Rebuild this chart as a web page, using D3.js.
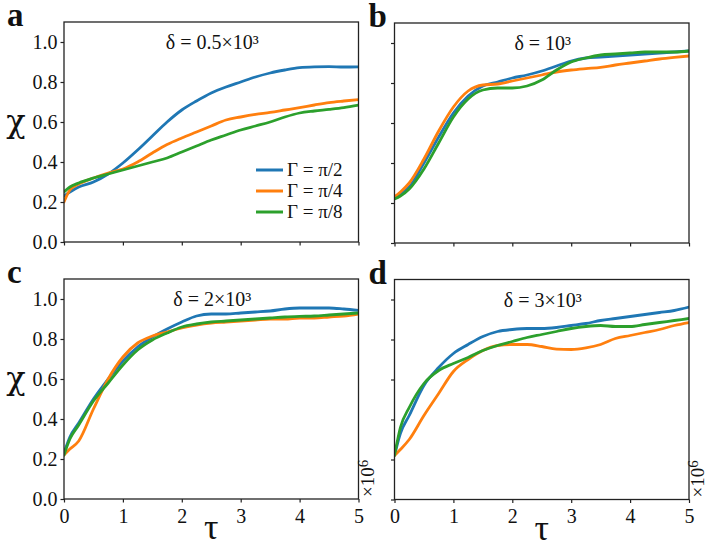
<!DOCTYPE html>
<html lang="en">
<head>
	<meta charset="utf-8">
	<script src="https://cdn.jsdelivr.net/npm/d3@7"></script>
	<style>
		body{ margin:0; background:white; }
		.frame{ fill:none; stroke:#222; stroke-width:1.3px; }
		.curve{ fill:none; stroke-width:2.8px; stroke-linejoin:round; stroke-linecap:round; }
		.tick line{ stroke:#222; stroke-width:1.2px; }
		.domain{ display:none; }
	</style>
</head>
<body>
	<script>
		var tau = [0, 0.1, 0.25, 0.5, 0.75, 1, 1.25, 1.5, 1.75, 2, 2.25, 2.5, 2.75, 3, 3.25, 3.5, 3.75, 4, 4.25, 4.5, 4.75, 5];
		var legendLabels = ["Γ = π/2", "Γ = π/4", "Γ = π/8"];
		var colors = ["#1f77b4", "#ff7f0e", "#2ca02c"];
		var xTicks = [0, 1, 2, 3, 4, 5];
		var yTicks = [0, 0.2, 0.4, 0.6, 0.8, 1.0];
		var panelLetters = ["a", "b", "c", "d"];
		var panelTitles = ["δ = 0.5×10³", "δ = 10³", "δ = 2×10³", "δ = 3×10³"];

		// panel a
		var aBlue   = [0.23,0.25,0.275,0.30,0.34,0.395,0.46,0.53,0.60,0.66,0.705,0.745,0.775,0.80,0.825,0.845,0.86,0.872,0.876,0.877,0.875,0.876];
		var aOrange = [0.20,0.26,0.29,0.32,0.345,0.365,0.40,0.445,0.487,0.52,0.55,0.58,0.61,0.625,0.638,0.648,0.66,0.672,0.685,0.697,0.705,0.712];
		var aGreen  = [0.25,0.275,0.295,0.32,0.34,0.36,0.38,0.40,0.42,0.45,0.48,0.51,0.535,0.56,0.58,0.60,0.625,0.645,0.655,0.663,0.672,0.684];
		// panel b
		var bBlue   = [0.23,0.245,0.28,0.40,0.53,0.65,0.735,0.785,0.805,0.825,0.84,0.86,0.885,0.91,0.925,0.93,0.935,0.94,0.945,0.95,0.955,0.96];
		var bOrange = [0.23,0.255,0.30,0.42,0.56,0.68,0.76,0.79,0.795,0.81,0.825,0.84,0.855,0.865,0.872,0.878,0.89,0.90,0.91,0.92,0.928,0.935];
		var bGreen  = [0.22,0.235,0.27,0.37,0.50,0.63,0.72,0.765,0.775,0.775,0.785,0.815,0.865,0.905,0.925,0.94,0.945,0.95,0.955,0.955,0.955,0.96];
		// panel c
		var cBlue   = [0.23,0.31,0.38,0.50,0.60,0.69,0.76,0.81,0.85,0.885,0.915,0.925,0.925,0.93,0.935,0.94,0.95,0.955,0.955,0.955,0.95,0.943];
		var cOrange = [0.22,0.25,0.29,0.45,0.60,0.71,0.78,0.815,0.835,0.855,0.87,0.88,0.885,0.89,0.895,0.90,0.90,0.905,0.905,0.91,0.915,0.925];
		var cGreen  = [0.22,0.30,0.37,0.49,0.58,0.67,0.745,0.795,0.83,0.86,0.875,0.885,0.89,0.895,0.90,0.905,0.91,0.913,0.915,0.92,0.925,0.93];
		// panel d
		var dBlue   = [0.22,0.33,0.42,0.57,0.66,0.73,0.775,0.815,0.84,0.85,0.855,0.855,0.86,0.87,0.88,0.895,0.905,0.915,0.925,0.935,0.945,0.962];
		var dOrange = [0.22,0.25,0.30,0.42,0.53,0.64,0.70,0.745,0.77,0.775,0.775,0.765,0.752,0.75,0.758,0.775,0.805,0.82,0.835,0.85,0.87,0.885];
		var dGreen  = [0.22,0.36,0.46,0.58,0.645,0.68,0.71,0.745,0.77,0.79,0.81,0.825,0.84,0.855,0.865,0.87,0.865,0.865,0.875,0.885,0.895,0.905];

		var panelSeries = [
			[aBlue, aOrange, aGreen],
			[bBlue, bOrange, bGreen],
			[cBlue, cOrange, cGreen],
			[dBlue, dOrange, dGreen]
		];

		var serif = "'Liberation Serif', 'Times New Roman', Times, serif";
		var width = 708, height = 543;
		var pw = 294.5, ph = 220;
		var origins = [[64, 22], [394.5, 23], [64, 279], [394.5, 279.5]];

		var svg = d3.select("body").append("svg")
			.attr("width", width)
			.attr("height", height)
			.style("font-family", serif);

		var x = d3.scaleLinear().domain([0, 5]).range([0, pw]);
		var y = d3.scaleLinear().domain([0, 1.1]).range([ph, 0]);

		var line = d3.line()
			.x(function(d){ return x(d[0]); })
			.y(function(d){ return y(d[1]); })
			.curve(d3.curveMonotoneX);

		svg.append("defs").append("clipPath").attr("id", "clip")
			.append("rect").attr("width", pw).attr("height", ph);

		panelSeries.forEach(function(series, i){
			var o = origins[i];
			var g = svg.append("g").attr("transform", "translate(" + o[0] + "," + o[1] + ")");
			var isLeft = (i % 2 == 0), isBottom = (i >= 2);

			var plot = g.append("g").attr("clip-path", "url(#clip)");
			series.forEach(function(vals, k){
				plot.append("path")
					.attr("class", "curve")
					.attr("stroke", colors[k])
					.attr("d", line(tau.map(function(t, j){ return [t, vals[j]]; })));
			});

			var xAxis = d3.axisBottom(x).tickValues(xTicks).tickSize(3.5).tickPadding(6)
				.tickFormat(d3.format("d"));
			if(!isBottom) xAxis.tickFormat("");
			var xg = g.append("g").attr("transform", "translate(0," + ph + ")").call(xAxis);
			xg.attr("font-family", serif);
			xg.selectAll("text").attr("font-size", "20px").attr("fill", "#111");

			var yAxis = d3.axisLeft(y).tickValues(yTicks).tickSize(3.5).tickPadding(3)
				.tickFormat(d3.format(".1f"));
			if(!isLeft) yAxis.tickFormat("");
			var yg = g.append("g").call(yAxis);
			yg.attr("font-family", serif);
			yg.selectAll("text").attr("font-size", "20px").attr("fill", "#111");

			g.append("rect").attr("class", "frame").attr("width", pw).attr("height", ph);

			g.append("text")
				.attr("x", pw / 2 + 1)
				.attr("y", 27)
				.attr("text-anchor", "middle")
				.attr("font-size", "20px")
				.attr("fill", "#111")
				.text(panelTitles[i]);

			g.append("text")
				.attr("x", isLeft ? -57 : -26)
				.attr("y", 4)
				.attr("font-size", "33px")
				.attr("font-weight", "bold")
				.attr("fill", "#111")
				.text(panelLetters[i]);

			if(isLeft){
				// the reference chi is a curly serif glyph
				g.append("text")
					.attr("x", -48)
					.attr("y", ph / 2)
					.attr("text-anchor", "middle")
					.attr("font-family", "'DejaVu Serif', serif")
					.attr("font-size", "32px")
					.attr("fill", "#111")
					.text("χ");
			}
			if(isBottom){
				g.append("text")
					.attr("x", pw / 2)
					.attr("y", ph + 40)
					.attr("text-anchor", "middle")
					.attr("font-size", "36px")
					.attr("fill", "#111")
					.text("τ");
				var m = g.append("text")
					.attr("transform", "translate(" + (pw + 15) + "," + (ph - 2) + ") rotate(-90)")
					.attr("font-size", "19px")
					.attr("fill", "#111");
				m.append("tspan").text("×10");
				m.append("tspan").attr("dy", -6).attr("font-size", "15px").text("6");
			}
			if(i == 0){
				var leg = g.append("g");
				legendLabels.forEach(function(lbl, k){
					var ly = 148 + k * 21;
					leg.append("line")
						.attr("x1", 192).attr("x2", 219)
						.attr("y1", ly).attr("y2", ly)
						.attr("stroke", colors[k])
						.attr("stroke-width", 3);
					leg.append("text")
						.attr("x", 223)
						.attr("y", ly + 6)
						.attr("font-size", "19px")
						.attr("fill", "#111")
						.text(lbl);
				});
			}
		});
	</script>
</body>
</html>
